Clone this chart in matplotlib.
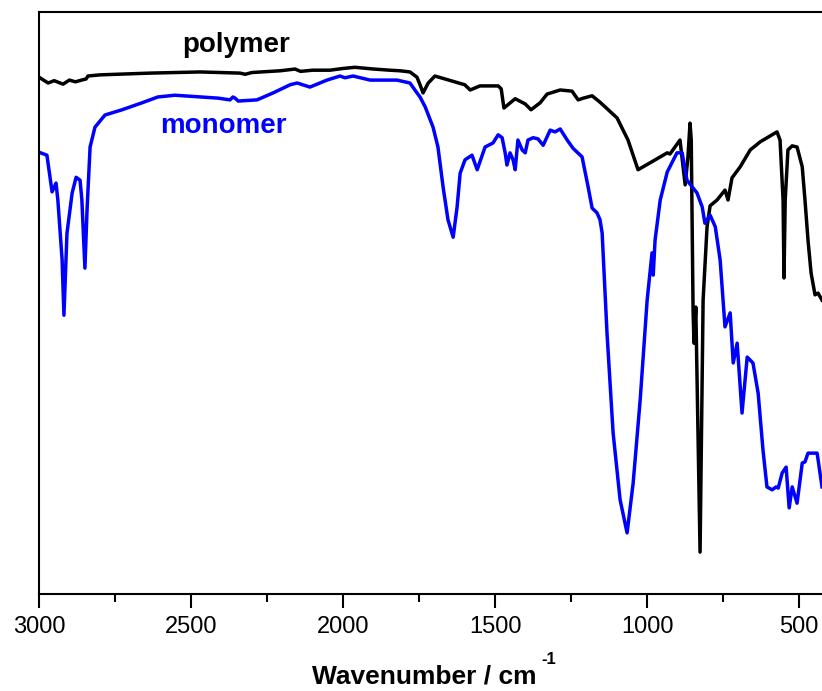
import numpy as np
import matplotlib.pyplot as plt
from matplotlib.ticker import MultipleLocator

plt.rcParams['font.family'] = ['Liberation Sans', 'DejaVu Sans']

# polymer spectrum (wavenumber / cm-1, transmittance a.u.)
wn_poly = [3000, 2970, 2950, 2921, 2900, 2880, 2860, 2845, 2839, 2799, 2635, 2470, 2339, 2322,
           2300, 2207, 2158, 2140, 2100, 2043, 2000, 1961, 1900, 1846, 1813, 1780, 1757, 1747,
           1737, 1720, 1698, 1600, 1582, 1550, 1490, 1480, 1471, 1434, 1401, 1382, 1352, 1329,
           1286, 1247, 1227, 1210, 1181, 1155, 1099, 1063, 1030, 990, 934, 925, 892, 875, 866,
           859, 855, 849, 846, 840, 826, 816, 803, 793, 770, 744, 734, 721, 694, 661, 628, 573,
           563, 553, 550, 546, 537, 523, 507, 490, 481, 471, 461, 448, 438, 425]
t_poly = [88.8, 87.8, 88.2, 87.6, 88.3, 88.0, 88.3, 88.5, 89.0, 89.2, 89.5, 89.7, 89.5, 89.3,
          89.6, 89.9, 90.2, 89.8, 90.0, 90.0, 90.3, 90.5, 90.2, 90.0, 89.9, 89.7, 88.8, 87.5,
          86.1, 87.8, 89.0, 87.5, 86.6, 87.3, 87.3, 86.8, 83.5, 85.1, 84.2, 83.2, 84.4, 85.9,
          86.6, 86.4, 84.9, 85.2, 85.6, 84.5, 81.8, 78.0, 72.9, 74.1, 75.8, 75.6, 78.0, 70.3, 75.0,
          80.9, 78.0, 48.8, 43.1, 49.3, 7.2, 50.5, 63.1, 66.7, 67.7, 69.4, 67.7, 71.5, 73.4, 76.3,
          77.7, 79.4, 78.0, 67.7, 54.3, 67.7, 76.3, 77.0, 76.8, 73.4, 67.7, 60.8, 55.2, 51.4,
          51.7, 50.5]

# monomer spectrum
wn_mono = [3000, 2974, 2957, 2944, 2938, 2924, 2918, 2908, 2891, 2878, 2865, 2859, 2849, 2842,
           2832, 2816, 2783, 2727, 2661, 2609, 2553, 2411, 2372, 2362, 2355, 2345, 2283, 2230,
           2174, 2151, 2109, 2053, 2010, 1994, 1967, 1911, 1823, 1780, 1757, 1747, 1730, 1704,
           1688, 1671, 1655, 1638, 1625, 1615, 1599, 1576, 1559, 1533, 1507, 1490, 1477, 1467,
           1461, 1451, 1441, 1434, 1425, 1411, 1401, 1392, 1375, 1359, 1342, 1319, 1303, 1286,
           1263, 1244, 1214, 1194, 1181, 1165, 1155, 1148, 1132, 1112, 1089, 1066, 1046, 1023,
           1000, 984, 980, 974, 957, 934, 902, 885, 869, 836, 819, 810, 793, 776, 760, 744, 727,
           717, 704, 688, 671, 652, 635, 619, 606, 589, 576, 569, 556, 543, 533, 523, 507, 490,
           481, 471, 454, 441, 425]
t_mono = [75.9, 75.4, 69.1, 70.6, 67.7, 57.4, 47.9, 62.0, 68.9, 71.6, 71.1, 67.7, 56.0, 66.0,
          76.8, 80.2, 82.3, 83.2, 84.4, 85.4, 85.7, 85.2, 84.9, 85.4, 85.2, 84.7, 84.9, 86.1,
          87.5, 87.8, 87.1, 88.3, 89.0, 88.7, 89.0, 88.3, 88.3, 87.8, 86.1, 85.4, 83.7, 80.2,
          76.8, 69.9, 64.3, 61.3, 66.5, 72.3, 74.6, 75.4, 72.9, 76.8, 77.5, 78.9, 78.4, 75.8,
          73.7, 75.8, 74.6, 72.9, 78.0, 76.3, 75.8, 78.0, 78.4, 78.2, 77.1, 79.7, 79.4, 79.9,
          78.0, 76.6, 75.1, 69.9, 66.3, 65.5, 64.3, 62.0, 44.8, 27.7, 16.2, 10.5, 19.1, 33.3,
          50.5, 58.6, 54.8, 60.8, 67.7, 72.5, 75.8, 75.8, 71.1, 68.9, 66.5, 63.7, 65.1, 63.1,
          57.4, 45.9, 48.3, 39.7, 43.1, 31.1, 40.7, 39.7, 34.5, 24.7, 18.4, 17.9, 18.4, 18.2,
          20.8, 21.8, 14.8, 18.4, 15.6, 22.5, 22.7, 24.2, 24.2, 24.2, 18.4]

fig = plt.figure(figsize=(8.22, 6.91), dpi=100)
ax = fig.add_axes([39/822, 1 - 594/691, 1 - 39/822, (594 - 12)/691])

ax.plot(wn_poly, t_poly, color='black', lw=2.5, solid_joinstyle='round')
ax.plot(wn_mono, t_mono, color='#0000ff', lw=2.5, solid_joinstyle='round')

ax.text(2530, 93.1, 'polymer', fontsize=20, fontweight='bold', color='black', va='baseline')
ax.text(2602, 79.2, 'monomer', fontsize=20, fontweight='bold', color='#0000ff', va='baseline')

ax.set_xlim(3000, 425)
ax.set_ylim(0, 100)
ax.xaxis.set_major_locator(MultipleLocator(500))
ax.xaxis.set_minor_locator(MultipleLocator(250))
ax.tick_params(axis='x', which='major', direction='out', length=10, width=1.5, labelsize=17, pad=6)
ax.tick_params(axis='x', which='minor', direction='out', length=5.5, width=1.5)
ax.set_yticks([])
ax.spines['right'].set_visible(False)
for s in ['left', 'bottom', 'top']:
    ax.spines[s].set_linewidth(1.5)

# axis title with a small superscript
fig.text(424/822, 1 - 683/691, 'Wavenumber / cm', fontsize=19, fontweight='bold',
         ha='center', va='baseline')
fig.text(541/822, 1 - 664/691, '-1', fontsize=12, fontweight='bold',
         ha='left', va='baseline')

fig.savefig('out.png', dpi=100)
